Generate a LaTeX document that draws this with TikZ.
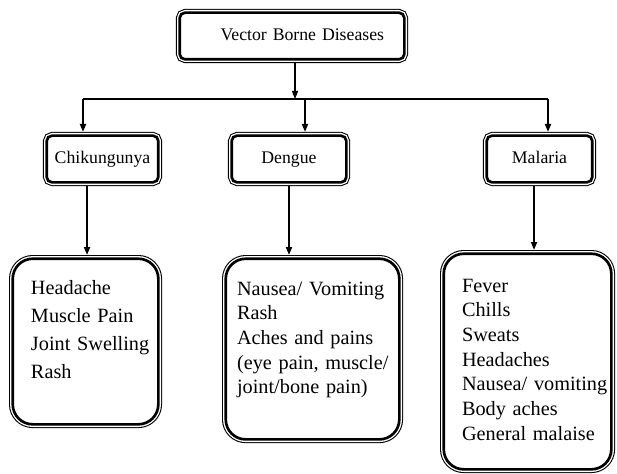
\documentclass[tikz,border=0pt]{standalone}
\usepackage{fontspec}
\setmainfont{Liberation Serif}
\usetikzlibrary{arrows.meta}
\hyphenpenalty=10000
\exhyphenpenalty=10000

\begin{document}
\begin{tikzpicture}[
    x=0.75pt, y=-0.75pt,
    frame/.style={rectangle, fill=white, draw=black, line width=2pt,
        preaction={draw=black, line width=5.6pt},
        preaction={draw=white, line width=4pt},
        outer sep=2.8pt},
    disease/.style={frame, rounded corners=4pt, inner sep=0pt,
        minimum height=35pt, text height=9.5pt, text depth=3pt,
        font=\fontsize{13.3}{16}\selectfont},
    symptoms/.style={frame, rounded corners=15pt, anchor=north west,
        align=left, inner ysep=0pt, font=\fontsize{15.2}{18.5}\selectfont},
    dep/.style={-{Triangle[length=6pt, width=4.5pt]}, line width=1.4pt},
    link/.style={line width=1.4pt},
]
\useasboundingbox (0,0) rectangle (617,474);

\node[disease, align=right, inner xsep=15.2pt, text width=138.1pt,
    minimum width=168.5pt] (vbd) at (292,36) {Vector Borne Diseases};

\node[disease, minimum width=83.7pt] (chik) at (102.5,159) {Chikungunya};
\node[disease, minimum width=86pt] (deng) at (289,159) {Dengue};
\node[disease, minimum width=79.2pt] (mal) at (539.5,159) {Malaria};

\node[symptoms, inner xsep=13.7pt, text width=81.8pt, text height=26.5pt,
    text depth=97.7pt, font=\fontsize{15.2}{21}\selectfont]
    (chikList) at (9,255) {Headache\\Muscle~Pain\\Joint~Swelling\\Rash};
\node[symptoms, inner xsep=8.5pt, text width=113.2pt, text height=27.2pt,
    text depth=108.3pt]
    (dengList) at (222,255) {Nausea/~Vomiting\\Rash\\Aches and pains\\(eye~pain,~muscle/\\joint/bone~pain)};
\node[symptoms, inner xsep=13.7pt, text width=98.3pt, text height=28.7pt,
    text depth=133pt]
    (malList) at (440,250) {Fever\\Chills\\Sweats\\Headaches\\Nausea/~vomiting\\Body~aches\\General~malaise};

\coordinate (jTop) at (295,99);
\coordinate (jChik) at (83,99);
\coordinate (jDeng) at (305,99);
\coordinate (jMal) at (548,99);

\draw[dep, line width=0.8pt] (jTop |- vbd.south) -- (jTop);
\draw[link] (jChik) -- (jMal);
\draw[dep] (jChik) -- (jChik |- chik.north);
\draw[dep] (jDeng) -- (jDeng |- deng.north);
\draw[dep] (jMal) -- (jMal |- mal.north);

\draw[dep] ([xshift=-11.6pt]chik.south) -- ([xshift=-11.6pt]chik.south |- chikList.north);
\draw[dep] (deng.south) -- (deng.south |- dengList.north);
\draw[dep] ([xshift=-4.1pt]mal.south) -- ([xshift=-4.1pt]mal.south |- malList.north);
\end{tikzpicture}
\end{document}
